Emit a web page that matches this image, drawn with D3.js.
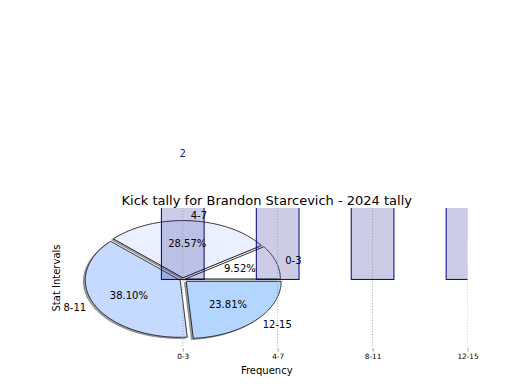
<!DOCTYPE html>
<html><head><meta charset="utf-8">
<script src="https://cdn.jsdelivr.net/npm/d3@7"></script>
<style>body{margin:0;background:#fff}svg{display:block}text{font-family:"DejaVu Sans",sans-serif}</style>
</head><body><svg id="c" width="520" height="390"></svg>
<script>
const categories = ["0-3", "4-7", "8-11", "12-15"];
const values = [2, 6, 8, 5];
const pieColors = ["#ffffff", "#eaf0ff", "#c6d9ff", "#b3d5ff"];
const explode = [0.03, 0.03, 0.03, 0.05];
const titleText = "Kick tally for Brandon Starcevich - 2024 tally";
const xLabel = "Frequency";
const yLabel = "Stat Intervals";

const svg = d3.select("#c");
const L = 66, R = 467.5, T = 208, B = 348;
const x = d3.scaleLinear().domain([-1.23, 3.0]).range([L, R]);
const y = d3.scaleLinear().domain([-1.2, 1.25]).range([B, T]);

svg.append("defs").append("clipPath").attr("id","ax")
  .append("rect").attr("x",L).attr("y",T).attr("width",R-L).attr("height",B-T);

// pie in data coords
const total = d3.sum(values);
let acc = 0;
const wedges = values.map((v,i)=>{
  const a0 = acc/total*2*Math.PI; acc += v; const a1 = acc/total*2*Math.PI;
  const mid = (a0+a1)/2;
  return {i, v, a0, a1, mid, dx: explode[i]*Math.cos(mid), dy: explode[i]*Math.sin(mid)};
});
function wedgePath(w, ox, oy){
  const cx = w.dx+ox, cy = w.dy+oy;
  const n = 80;
  let p = "M"+x(cx)+","+y(cy);
  for(let k=0;k<=n;k++){
    const t = w.a0 + (w.a1-w.a0)*k/n;
    p += "L"+x(cx+Math.cos(t))+","+y(cy+Math.sin(t));
  }
  return p+"Z";
}
const pg = svg.append("g");
wedges.forEach(w=>{
  const c = d3.rgb(pieColors[w.i]);
  const sc = d3.rgb(c.r*0.3, c.g*0.3, c.b*0.3);
  pg.append("path").attr("d", wedgePath(w,-0.02,-0.02))
    .attr("fill", sc).attr("fill-opacity",0.5).attr("stroke", sc).attr("stroke-opacity",0.5).attr("stroke-width",0.8);
  pg.append("path").attr("d", wedgePath(w,0,0))
    .attr("fill", pieColors[w.i]).attr("stroke","#222").attr("stroke-width",0.9).attr("stroke-linejoin","miter");
});

// bars
const bw = 0.45;
const gb = svg.append("g").attr("clip-path","url(#ax)");
values.forEach((v,i)=>{
  gb.append("rect").attr("x", x(i-bw/2)).attr("width", x(i+bw/2)-x(i-bw/2))
    .attr("y", y(v)).attr("height", y(0)-y(v))
    .attr("fill","navy").attr("fill-opacity",0.2).attr("stroke","navy").attr("stroke-width",1);
});
// grid
const gg = svg.append("g").attr("clip-path","url(#ax)");
categories.forEach((c,i)=>{
  gg.append("line").attr("x1",x(i)).attr("x2",x(i)).attr("y1",T).attr("y2",B)
    .attr("stroke","#a0a0a0").attr("stroke-width",1).attr("stroke-dasharray","1,1.8");
});
// x axis ticks
const xa = d3.axisBottom(x).tickValues(d3.range(categories.length)).tickFormat(i=>categories[i]).tickSize(3.5).tickPadding(2);
const ag = svg.append("g").attr("transform",`translate(0,${B})`).call(xa);
ag.select(".domain").remove();
ag.selectAll(".tick line").attr("stroke","#a0a0a0");
ag.selectAll(".tick text").attr("font-size",7.3).attr("font-family","DejaVu Sans").attr("fill","#000");

// bar value labels (only those that land on the canvas)
values.forEach((v,i)=>{
  const ly = y(v)-8;
  if (ly < 12) return;
  svg.append("text").attr("x",x(i)).attr("y",ly).attr("text-anchor","middle")
    .attr("font-size",10).attr("fill","#1a1a80").text(v);
});

// pie labels
wedges.forEach(w=>{
  const lx = w.dx + 1.1*Math.cos(w.mid), ly = w.dy + 1.1*Math.sin(w.mid);
  svg.append("text").attr("x",x(lx)).attr("y",y(ly)).attr("dy","0.35em")
    .attr("text-anchor", Math.cos(w.mid)>0?"start":"end").attr("font-size",10).text(categories[w.i]);
  const px = w.dx + 0.6*Math.cos(w.mid), py = w.dy + 0.6*Math.sin(w.mid);
  svg.append("text").attr("x",x(px)).attr("y",y(py)).attr("dy","0.35em")
    .attr("text-anchor","middle").attr("font-size",10).text((w.v/total*100).toFixed(2)+"%");
});

svg.append("text").attr("x",(L+R)/2).attr("y",T-3.5).attr("text-anchor","middle").attr("font-size",13).text(titleText);
svg.append("text").attr("x",(L+R)/2).attr("y",374).attr("text-anchor","middle").attr("font-size",10).text(xLabel);
svg.append("text").attr("transform",`translate(60,${(T+B)/2}) rotate(-90)`).attr("text-anchor","middle").attr("font-size",10).text(yLabel);
</script></body></html>
